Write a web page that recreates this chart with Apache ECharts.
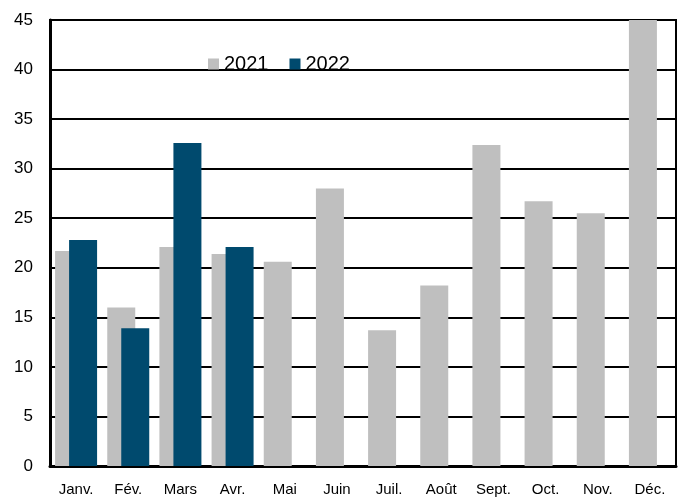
<!DOCTYPE html>
<html>
<head>
<meta charset="utf-8">
<script src="https://cdn.jsdelivr.net/npm/echarts@6/dist/echarts.min.js"></script>
<style>
  html, body { margin: 0; padding: 0; background: #fff; }
  #main { width: 679px; height: 497px; }
</style>
</head>
<body>
<div id="main"></div>
<script>
// month labels (French)
const months = ['Janv.', 'Fév.', 'Mars', 'Avr.', 'Mai', 'Juin', 'Juil.', 'Août', 'Sept.', 'Oct.', 'Nov.', 'Déc.'];
const values2021 = [21.7, 16.0, 22.1, 21.4, 20.6, 28.0, 13.7, 18.2, 32.4, 26.7, 25.5, 45.0];
const values2022 = [22.8, 13.9, 32.6, 22.1];

const chart = echarts.init(document.getElementById('main'));

chart.setOption({
  animation: false,
  textStyle: { fontFamily: 'Liberation Sans', color: '#000' },
  grid: {
    left: 50, right: 3, top: 20, bottom: 31,
    show: true, borderColor: '#000', borderWidth: 2
  },
  legend: {
    left: 203, top: 49,
    itemWidth: 11, itemHeight: 11, itemGap: 21,
    icon: 'rect',
    textStyle: { fontSize: 20, color: '#000', fontFamily: 'Liberation Sans' },
    data: ['2021', '2022']
  },
  xAxis: {
    type: 'category',
    data: months,
    axisLine: { lineStyle: { color: '#000', width: 3 } },
    axisTick: { show: false },
    axisLabel: { fontSize: 15, color: '#000', margin: 16 }
  },
  yAxis: {
    type: 'value',
    min: 0, max: 45, interval: 5,
    axisLine: { show: true, lineStyle: { color: '#000', width: 3 } },
    axisTick: { show: false },
    axisLabel: { fontSize: 17, color: '#000', margin: 17 },
    splitLine: { lineStyle: { color: '#000', width: 2 } }
  },
  series: [
    {
      name: '2021', type: 'bar', data: values2021,
      barWidth: 28, barGap: '-50%',
      itemStyle: { color: '#bfbfbf' }
    },
    {
      name: '2022', type: 'bar', data: values2022,
      barWidth: 28,
      itemStyle: { color: '#004a6e' }
    }
  ]
});
</script>
</body>
</html>
